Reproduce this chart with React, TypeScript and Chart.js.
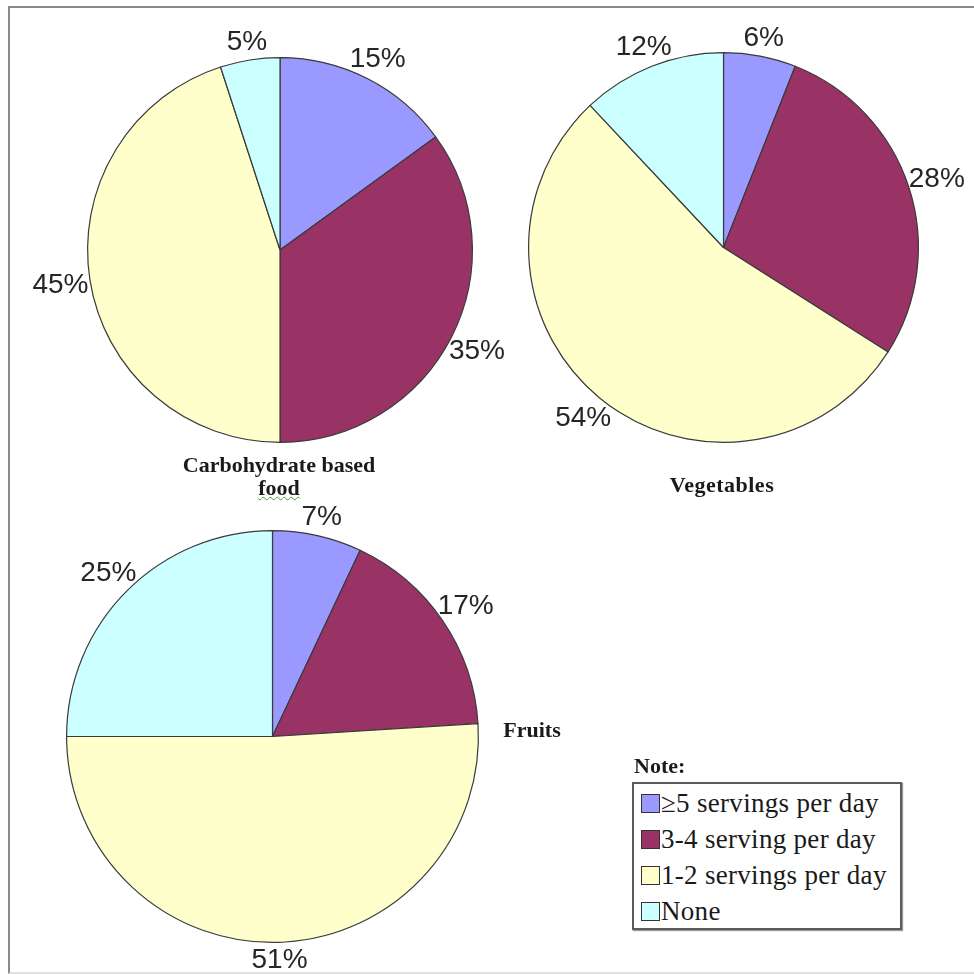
import React, { useEffect, useRef } from "react";
import { Chart, registerables } from "chart.js";

Chart.register(...registerables);

const categories = ["≥5 servings per day", "3-4 serving per day", "1-2 servings per day", "None"];
const carbohydrateValues = [15, 35, 45, 5];
const vegetableValues = [6, 28, 54, 12];
const fruitValues = [7, 17, 51, 25];
const sliceColors = ["#9999FF", "#993366", "#FFFFCC", "#CCFFFF"];
const pieTitles = ["Carbohydrate based", "food", "Vegetables", "Fruits"];
const legendTitle = "Note:";

const outsideLabels = {
  id: "outsideLabels",
  afterDatasetsDraw(chart: any) {
    const ctx = chart.ctx;
    const meta = chart.getDatasetMeta(0);
    const data = chart.data.datasets[0].data;
    ctx.save();
    ctx.font = "28px 'Liberation Sans', Arial, sans-serif";
    ctx.fillStyle = "#262626";
    ctx.textAlign = "center";
    ctx.textBaseline = "middle";
    meta.data.forEach((arc: any, i: number) => {
      const { x, y, startAngle, endAngle, outerRadius } = arc.getProps(
        ["x", "y", "startAngle", "endAngle", "outerRadius"],
        true
      );
      const mid = (startAngle + endAngle) / 2;
      const d = outerRadius + 17 + 13 * Math.abs(Math.cos(mid));
      ctx.fillText(`${data[i]}%`, x + Math.cos(mid) * d, y + Math.sin(mid) * d + 1);
    });
    ctx.restore();
  },
};

type PieProps = { values: number[]; left: number; top: number; size: number; pad: number };

function Pie({ values, left, top, size, pad }: PieProps) {
  const ref = useRef<HTMLCanvasElement | null>(null);
  useEffect(() => {
    if (!ref.current) return;
    const chart = new Chart(ref.current, {
      type: "pie",
      data: {
        labels: categories,
        datasets: [
          {
            data: values,
            backgroundColor: sliceColors,
            borderColor: "#3a3a3a",
            borderWidth: 1.2,
          },
        ],
      },
      options: {
        responsive: false,
        animation: false,
        layout: { padding: pad },
        plugins: { legend: { display: false }, tooltip: { enabled: false } },
        events: [],
      },
      plugins: [outsideLabels],
    });
    return () => chart.destroy();
  }, []);
  return (
    <canvas
      ref={ref}
      width={size}
      height={size}
      style={{ position: "absolute", left, top, width: size, height: size }}
    />
  );
}

const titleStyle: React.CSSProperties = {
  position: "absolute",
  fontFamily: "'Liberation Serif', 'Times New Roman', serif",
  fontWeight: "bold",
  fontSize: 22,
  lineHeight: "24px",
  color: "#1a1a1a",
  whiteSpace: "nowrap",
  textAlign: "center",
  transform: "translateX(-50%)",
};

const legendRowStyle: React.CSSProperties = {
  position: "absolute",
  left: 641,
  height: 30,
  display: "flex",
  alignItems: "center",
  fontFamily: "'Liberation Serif', 'Times New Roman', serif",
  fontSize: 27,
  letterSpacing: "0.3px",
  lineHeight: "30px",
  color: "#1a1a1a",
  whiteSpace: "nowrap",
};

export default function App() {
  const rowCenters = [803, 839, 875, 911];
  return (
    <div style={{ position: "absolute", left: 0, top: 0, width: 974, height: 974, background: "#fff", overflow: "hidden" }}>
      <div
        style={{
          position: "absolute",
          left: 8,
          top: 6,
          width: 964,
          height: 964,
          borderLeft: "2px solid #8a8a8a",
          borderTop: "2px solid #8a8a8a",
          borderRight: "2px solid #e0e0e0",
          borderBottom: "2px solid #e0e0e0",
        }}
      />
      <Pie values={carbohydrateValues} left={27} top={-3.5} size={506} pad={60} />
      <Pie values={vegetableValues} left={467.5} top={-8.5} size={511} pad={60} />
      <Pie values={fruitValues} left={5.5} top={469.5} size={533} pad={60} />

      <div style={{ ...titleStyle, left: 279, top: 453 }}>{pieTitles[0]}</div>
      <div
        style={{
          ...titleStyle,
          left: 279,
          top: 476,
          textDecoration: "underline wavy #4a9a3a",
          textDecorationThickness: "1px",
        }}
      >
        {pieTitles[1]}
      </div>
      <div style={{ ...titleStyle, left: 722, top: 473, letterSpacing: "0.5px" }}>{pieTitles[2]}</div>
      <div style={{ ...titleStyle, left: 532, top: 718 }}>{pieTitles[3]}</div>

      <div style={{ ...titleStyle, transform: "none", textAlign: "left", left: 634, top: 754, fontSize: 22 }}>
        {legendTitle}
      </div>
      <div
        style={{
          position: "absolute",
          left: 632,
          top: 782,
          width: 266,
          height: 144,
          border: "2px solid #5a5a5a",
          boxShadow: "1px 1px 1px #999",
        }}
      />
      {categories.map((c, i) => (
        <div key={c} style={{ ...legendRowStyle, top: rowCenters[i] - 15 }}>
          <span
            style={{
              display: "inline-block",
              width: 17,
              height: 17,
              background: sliceColors[i],
              border: "1px solid #333",
              marginRight: 1,
            }}
          />
          <span>{c}</span>
        </div>
      ))}
    </div>
  );
}
